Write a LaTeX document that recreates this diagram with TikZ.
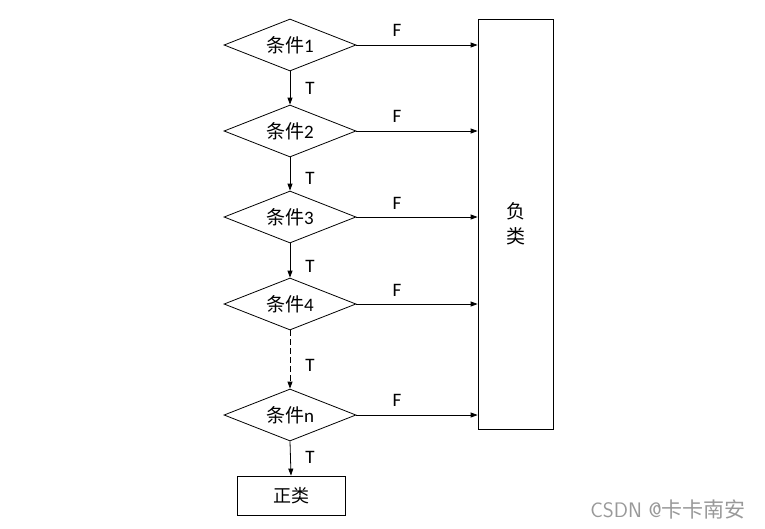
\documentclass[tikz,border=0pt]{standalone}
\usepackage{fontspec}
\setmainfont{Carlito}
\newfontfamily\cjk{Noto Sans CJK SC}
\usetikzlibrary{shapes.geometric,arrows.meta}
\begin{document}
\begin{tikzpicture}[x=1pt,y=-1pt,
  cond/.style={diamond,draw,line width=0.8pt,minimum width=132pt,minimum height=52pt,inner sep=0pt,aspect=2.5,font=\fontsize{19}{19}\selectfont},
  box/.style={draw,line width=0.8pt,inner sep=0pt},
  conn/.style={line width=0.8pt,-{Triangle[length=7pt,width=5pt]}},
  lbl/.style={font=\fontsize{19}{19}\selectfont,inner sep=0pt}]
\useasboundingbox (0,0) rectangle (765,528);
\node[cond] (c1) at (290,45) {\cjk 条件\rmfamily 1};
\node[cond] (c2) at (290,131) {\cjk 条件\rmfamily 2};
\node[cond] (c3) at (290,217) {\cjk 条件\rmfamily 3};
\node[cond] (c4) at (290,304) {\cjk 条件\rmfamily 4};
\node[cond] (cn) at (290,415) {\cjk 条件\rmfamily n};
\node[box,minimum width=108pt,minimum height=39pt,font=\fontsize{18}{18}\selectfont\cjk] (pos) at (291,495.5) {正类};
\node[box,minimum width=75pt,minimum height=410pt,font=\fontsize{19}{25}\selectfont\cjk,align=center] (neg) at (515.5,224) {负\\类};
\foreach \c in {c1,c2,c3,c4,cn}{
  \draw[conn] (\c.east) -- (\c.east -| neg.west);
}
\draw[conn] (c1.south) -- (c2.north);
\draw[conn] (c2.south) -- (c3.north);
\draw[conn] (c3.south) -- (c4.north);
\draw[conn,dashed,dash pattern=on 6pt off 3pt] (c4.south) -- (cn.north);
\draw[conn] (cn.south) -- (pos.north);
\foreach \y in {30,116,203,290,400}{ \node[lbl] at (397,\y) {F}; }
\foreach \y in {88,178,266,365,457}{ \node[lbl] at (310,\y) {T}; }
\node[font=\fontsize{21}{21}\selectfont,text=gray!80,inner sep=0pt] (wm) at (668,509) {\sffamily CSDN @\cjk 卡卡南安};
\end{tikzpicture}
\end{document}
